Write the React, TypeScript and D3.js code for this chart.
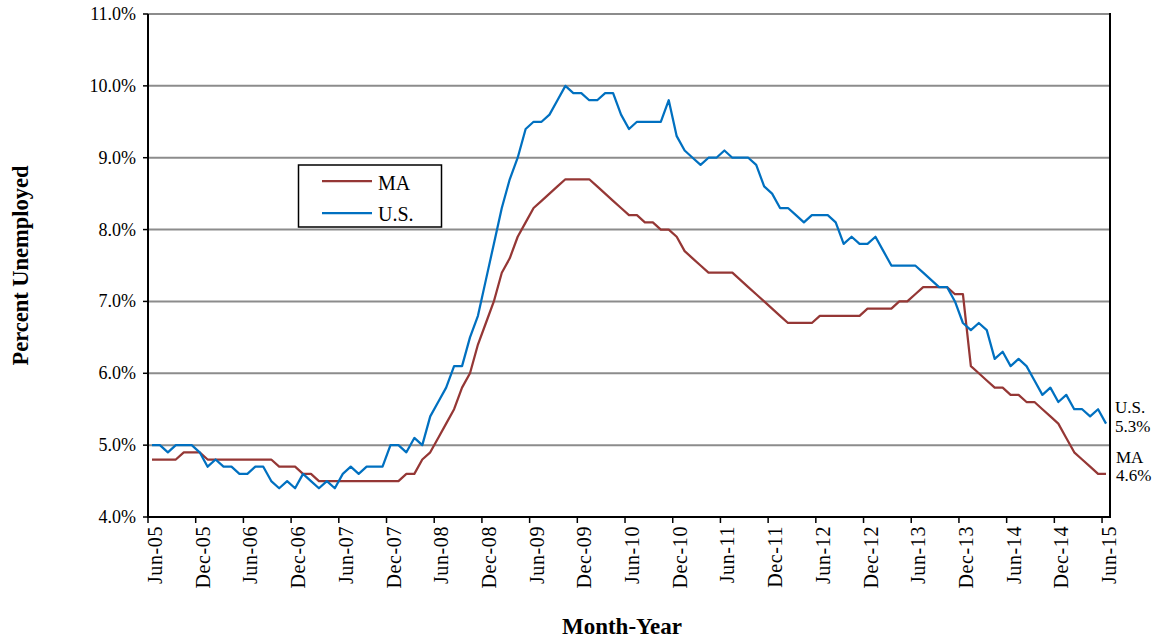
import React from "react";
import * as d3 from "d3";

// Monthly unemployment rate, Jun-2005 .. Jun-2015 (percent)
const maValues: number[] = [
  // 2005 Jun-Dec
  4.8, 4.8, 4.8, 4.8, 4.9, 4.9, 4.9,
  // 2006
  4.8, 4.8, 4.8, 4.8, 4.8, 4.8, 4.8, 4.8, 4.8, 4.7, 4.7, 4.7,
  // 2007
  4.6, 4.6, 4.5, 4.5, 4.5, 4.5, 4.5, 4.5, 4.5, 4.5, 4.5, 4.5,
  // 2008
  4.5, 4.6, 4.6, 4.8, 4.9, 5.1, 5.3, 5.5, 5.8, 6.0, 6.4, 6.7,
  // 2009
  7.0, 7.4, 7.6, 7.9, 8.1, 8.3, 8.4, 8.5, 8.6, 8.7, 8.7, 8.7,
  // 2010
  8.7, 8.6, 8.5, 8.4, 8.3, 8.2, 8.2, 8.1, 8.1, 8.0, 8.0, 7.9,
  // 2011
  7.7, 7.6, 7.5, 7.4, 7.4, 7.4, 7.4, 7.3, 7.2, 7.1, 7.0, 6.9,
  // 2012
  6.8, 6.7, 6.7, 6.7, 6.7, 6.8, 6.8, 6.8, 6.8, 6.8, 6.8, 6.9,
  // 2013
  6.9, 6.9, 6.9, 7.0, 7.0, 7.1, 7.2, 7.2, 7.2, 7.2, 7.1, 7.1,
  // 2014
  6.1, 6.0, 5.9, 5.8, 5.8, 5.7, 5.7, 5.6, 5.6, 5.5, 5.4, 5.3,
  // 2015 Jan-Jun
  5.1, 4.9, 4.8, 4.7, 4.6, 4.6,
];

const usValues: number[] = [
  // 2005 Jun-Dec
  5.0, 5.0, 4.9, 5.0, 5.0, 5.0, 4.9,
  // 2006
  4.7, 4.8, 4.7, 4.7, 4.6, 4.6, 4.7, 4.7, 4.5, 4.4, 4.5, 4.4,
  // 2007
  4.6, 4.5, 4.4, 4.5, 4.4, 4.6, 4.7, 4.6, 4.7, 4.7, 4.7, 5.0,
  // 2008
  5.0, 4.9, 5.1, 5.0, 5.4, 5.6, 5.8, 6.1, 6.1, 6.5, 6.8, 7.3,
  // 2009
  7.8, 8.3, 8.7, 9.0, 9.4, 9.5, 9.5, 9.6, 9.8, 10.0, 9.9, 9.9,
  // 2010
  9.8, 9.8, 9.9, 9.9, 9.6, 9.4, 9.5, 9.5, 9.5, 9.5, 9.8, 9.3,
  // 2011
  9.1, 9.0, 8.9, 9.0, 9.0, 9.1, 9.0, 9.0, 9.0, 8.9, 8.6, 8.5,
  // 2012
  8.3, 8.3, 8.2, 8.1, 8.2, 8.2, 8.2, 8.1, 7.8, 7.9, 7.8, 7.8,
  // 2013
  7.9, 7.7, 7.5, 7.5, 7.5, 7.5, 7.4, 7.3, 7.2, 7.2, 7.0, 6.7,
  // 2014
  6.6, 6.7, 6.6, 6.2, 6.3, 6.1, 6.2, 6.1, 5.9, 5.7, 5.8, 5.6,
  // 2015 Jan-Jun
  5.7, 5.5, 5.5, 5.4, 5.5, 5.3,
];

const xTickLabels: string[] = [
  "Jun-05", "Dec-05", "Jun-06", "Dec-06", "Jun-07", "Dec-07", "Jun-08",
  "Dec-08", "Jun-09", "Dec-09", "Jun-10", "Dec-10", "Jun-11", "Dec-11",
  "Jun-12", "Dec-12", "Jun-13", "Dec-13", "Jun-14", "Dec-14", "Jun-15",
];
const tickEvery = 6;
const yTicks: number[] = [4, 5, 6, 7, 8, 9, 10, 11];

const seriesNames = ["MA", "U.S."];
const seriesColors = ["#953735", "#0070C0"];
const endLabels = [
  { name: "U.S.", value: "5.3%" },
  { name: "MA", value: "4.6%" },
];

const W = 1158;
const H = 639;
const left = 148;
const right = 1110;
const top = 14;
const bottom = 517;
const serif = "'Liberation Serif', 'Times New Roman', serif";

export default function App() {
  const n = maValues.length;
  const x = d3.scaleLinear().domain([-0.5, n - 0.5]).range([left, right]);
  const y = d3.scaleLinear().domain([4, 11]).range([bottom, top]);
  const line = d3
    .line<number>()
    .x((_, i) => x(i))
    .y((v) => y(v));

  const tickIdx = xTickLabels.map((_, k) => k * tickEvery);
  const usLast = usValues[usValues.length - 1];
  const maLast = maValues[maValues.length - 1];

  return (
    <svg
      width={W}
      height={H}
      style={{ position: "absolute", left: 0, top: 0, background: "#fff" }}
      fontFamily={serif}
    >
      {/* gridlines */}
      {yTicks.slice(1).map((t) => (
        <line key={t} x1={left} x2={right} y1={y(t)} y2={y(t)} stroke="#8c8c8c" strokeWidth={2} />
      ))}
      {/* y axis */}
      <line x1={left} x2={left} y1={top} y2={bottom + 1} stroke="#000" strokeWidth={2} />
      <line x1={right} x2={right} y1={top - 1} y2={bottom + 1} stroke="#000" strokeWidth={2} />
      {yTicks.map((t) => (
        <g key={t}>
          <line x1={left - 5} x2={left} y1={y(t)} y2={y(t)} stroke="#000" strokeWidth={1.5} />
          <text x={136} y={y(t) + 6} textAnchor="end" fontSize={18} fill="#000">
            {t.toFixed(1)}%
          </text>
        </g>
      ))}
      {/* x axis */}
      <line x1={left - 1} x2={right + 1} y1={bottom} y2={bottom} stroke="#000" strokeWidth={2} />
      {tickIdx.map((i, k) => {
        const tx = x(i - 0.5);
        return (
          <g key={k}>
            <line x1={tx} x2={tx} y1={bottom} y2={bottom + 6} stroke="#000" strokeWidth={1.5} />
            <text
              transform={`translate(${tx + 14},${bottom + 9}) rotate(-90)`}
              textAnchor="end"
              fontSize={20}
              letterSpacing={0.6}
              fill="#000"
            >
              {xTickLabels[k]}
            </text>
          </g>
        );
      })}
      {/* series */}
      <path d={line(maValues) || ""} fill="none" stroke={seriesColors[0]} strokeWidth={2.25} strokeLinejoin="round" />
      <path d={line(usValues) || ""} fill="none" stroke={seriesColors[1]} strokeWidth={2.25} strokeLinejoin="round" />

      {/* end labels */}
      <text x={1115} y={y(usLast) - 11} fontSize={17} fill="#000">{endLabels[0].name}</text>
      <text x={1115} y={y(usLast) + 8} fontSize={17} fill="#000">{endLabels[0].value}</text>
      <text x={1116} y={y(maLast) - 11} fontSize={17} fill="#000">{endLabels[1].name}</text>
      <text x={1116} y={y(maLast) + 7} fontSize={17} fill="#000">{endLabels[1].value}</text>

      {/* legend */}
      <rect x={298.5} y={165} width={143} height={62} fill="#fff" stroke="#000" strokeWidth={1.5} />
      {seriesNames.map((name, k) => (
        <g key={name}>
          <line x1={322} x2={372} y1={181 + k * 32} y2={181 + k * 32} stroke={seriesColors[k]} strokeWidth={2.25} />
          <text x={378} y={190 + k * 31} fontSize={20} fill="#000">{name}</text>
        </g>
      ))}

      {/* axis titles */}
      <text
        transform={`translate(28,${(top + bottom) / 2}) rotate(-90)`}
        textAnchor="middle"
        fontSize={22.5}
        fontWeight="bold"
        fill="#000"
      >
        Percent Unemployed
      </text>
      <text x={(left + right) / 2 - 7} y={634} textAnchor="middle" fontSize={23} fontWeight="bold" fill="#000">
        Month-Year
      </text>
    </svg>
  );
}
